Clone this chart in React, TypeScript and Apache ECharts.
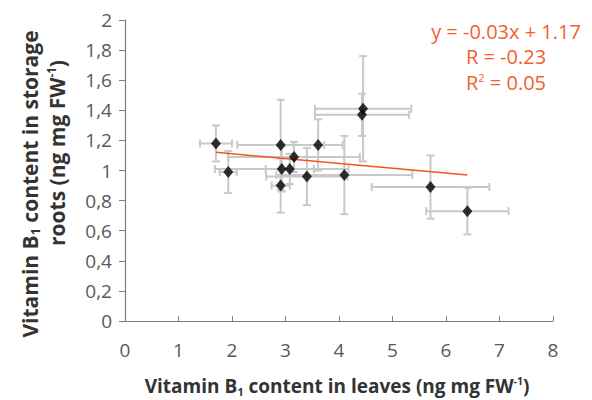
import React, { useEffect, useRef } from "react";
import * as echarts from "echarts";

// Vitamin B1 in leaves (x) vs storage roots (y), with standard deviations
const leafB1 = [1.7, 1.93, 2.91, 2.93, 2.91, 3.61, 3.08, 3.16, 3.4, 4.1, 4.45, 4.43, 5.71, 6.4];
const rootB1 = [1.18, 0.99, 1.17, 1.01, 0.9, 1.17, 1.01, 1.09, 0.96, 0.97, 1.41, 1.37, 0.89, 0.73];
const leafErr = [0.3, 0.16, 0.81, 1.25, 0.17, 0.46, 0.45, 1.23, 0.76, 1.27, 0.9, 0.88, 1.1, 0.77];
const rootErr = [0.12, 0.14, 0.3, 0.15, 0.18, 0.17, 0.1, 0.1, 0.19, 0.26, 0.35, 0.14, 0.21, 0.155];

const trendSlope = -0.032;
const trendIntercept = 1.175;
const equationLines = ["y = -0.03x + 1.17", "R = -0.23", "R{sup|2} = 0.05"];

const xTicks = [0, 8, 1];
const yTicks = [0, 2, 0.2];

const FONT = "'Open Sans', sans-serif";
const ORANGE = "#F0612E";
const TITLE = "#333333";

export default function App() {
  const ref = useRef<HTMLDivElement>(null);
  useEffect(() => {
    if (!ref.current) return;
    const chart = echarts.init(ref.current, undefined, { renderer: "svg" });
    const pts = leafB1.map((x, i) => [x, rootB1[i], leafErr[i], rootErr[i]]);
    const xmin = Math.min(...leafB1);
    const xmax = Math.max(...leafB1);
    const trend = [
      [xmin, trendIntercept + trendSlope * xmin],
      [xmax, trendIntercept + trendSlope * xmax],
    ];
    const mkRich = (size: number) => ({
      sub: { fontSize: size * 0.6, fontWeight: "bold", fontFamily: FONT, fill: TITLE, padding: [size * 0.55, 0, 0, 0] },
      sup: { fontSize: size * 0.55, fontWeight: "bold", fontFamily: FONT, fill: TITLE, padding: [0, 0, size * 0.55, 0] },
    });
    const titleStyle = (text: string, size: number) => ({
      text,
      rich: mkRich(size),
      fontSize: size,
      fontWeight: "bold",
      fontFamily: FONT,
      fill: TITLE,
      align: "center",
      verticalAlign: "middle",
    });
    chart.setOption({
      animation: false,
      grid: { left: 125, right: 39, top: 20, bottom: 79 },
      xAxis: {
        type: "value",
        min: xTicks[0],
        max: xTicks[1],
        interval: xTicks[2],
        splitLine: { show: false },
        axisLine: { lineStyle: { color: "#7f7f7f", width: 1.2 } },
        axisTick: { inside: true, length: 5, lineStyle: { color: "#7f7f7f" } },
        axisLabel: { color: "#595959", fontSize: 19, fontFamily: FONT, margin: 19 },
      },
      yAxis: {
        type: "value",
        min: yTicks[0],
        max: yTicks[1],
        interval: yTicks[2],
        splitLine: { show: false },
        axisLine: { show: true, lineStyle: { color: "#7f7f7f", width: 1.2 } },
        axisTick: { show: true, length: 6, lineStyle: { color: "#7f7f7f" } },
        axisLabel: {
          color: "#595959",
          fontSize: 19,
          fontFamily: FONT,
          margin: 13,
          formatter: (v: number) => String(Math.round(v * 10) / 10).replace(".", ","),
        },
      },
      series: [
        {
          type: "custom",
          z: 1,
          data: pts,
          renderItem: (params: any, api: any) => {
            const x = api.value(0);
            const y = api.value(1);
            const ex = api.value(2);
            const ey = api.value(3);
            const l = api.coord([x - ex, y]);
            const r = api.coord([x + ex, y]);
            const t = api.coord([x, y + ey]);
            const b = api.coord([x, y - ey]);
            const c = 4;
            const style = { stroke: "#c9c9c9", lineWidth: 2 };
            const ln = (x1: number, y1: number, x2: number, y2: number) => ({
              type: "line",
              shape: { x1, y1, x2, y2 },
              style,
            });
            return {
              type: "group",
              children: [
                ln(l[0], l[1], r[0], r[1]),
                ln(l[0], l[1] - c, l[0], l[1] + c),
                ln(r[0], r[1] - c, r[0], r[1] + c),
                ln(t[0], t[1], b[0], b[1]),
                ln(t[0] - c, t[1], t[0] + c, t[1]),
                ln(b[0] - c, b[1], b[0] + c, b[1]),
              ],
            };
          },
        },
        {
          type: "line",
          z: 2,
          data: trend,
          symbol: "none",
          lineStyle: { color: "#F2541B", width: 1.5 },
        },
        {
          type: "scatter",
          z: 3,
          data: pts.map((p) => [p[0], p[1]]),
          symbol: "diamond",
          symbolSize: [10, 12],
          itemStyle: { color: "#000000" },
        },
      ],
      graphic: [
        {
          type: "text",
          x: 30,
          y: 184,
          rotation: Math.PI / 2,
          style: titleStyle("Vitamin B{sub|1} content in storage", 21),
        },
        {
          type: "text",
          x: 57,
          y: 153,
          rotation: Math.PI / 2,
          style: titleStyle("roots (ng mg FW{sup|-1})", 21),
        },
        {
          type: "text",
          x: 337,
          y: 386,
          style: titleStyle("Vitamin B{sub|1} content in leaves (ng mg FW{sup|-1})", 19),
        },
        ...equationLines.map((t, i) => ({
          type: "text",
          x: 506,
          y: 31 + i * 25.5,
          style: {
            text: t,
            rich: { sup: { fontSize: 11, fontFamily: FONT, fill: ORANGE, padding: [0, 0, 10, 0] } },
            fontSize: 20,
            fontFamily: FONT,
            fill: ORANGE,
            align: "center",
            verticalAlign: "middle",
          },
        })),
      ],
    });
    return () => chart.dispose();
  }, []);
  return <div ref={ref} style={{ width: 592, height: 400, position: "absolute", left: 0, top: 0 }} />;
}
